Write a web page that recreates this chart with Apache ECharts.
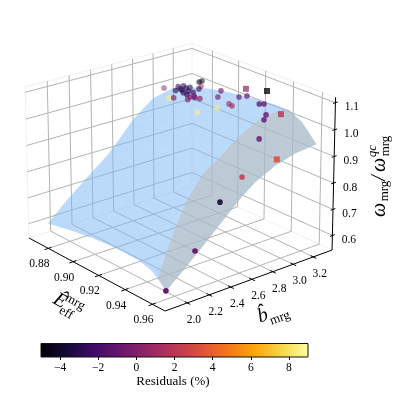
<!DOCTYPE html>
<html>
<head>
<meta charset="utf-8">
<style>html,body{margin:0;padding:0;background:#fff}#main{width:399px;height:395px}</style>
<script src="https://cdn.jsdelivr.net/npm/echarts@6/dist/echarts.min.js"></script>
</head>
<body>
<div id="main"></div>
<script>
// axis ranges and ticks
var eRange = [0.864, 0.969];
var bRange = [1.8, 3.39];
var zRange = [0.544, 1.12];
var eTicks = [0.88, 0.90, 0.92, 0.94, 0.96];
var bTicks = [2.0, 2.2, 2.4, 2.6, 2.8, 3.0, 3.2];
var zTicks = [0.6, 0.7, 0.8, 0.9, 1.0, 1.1];
var cbarTicks = [-4, -2, 0, 2, 4, 6, 8];

// fitted surface (rows follow surfB, columns follow surfE)
var surfE = [0.870, 0.882, 0.894, 0.906, 0.918, 0.930, 0.942, 0.951, 0.961];
var surfB = [1.911, 2.093, 2.277, 2.474, 2.595, 2.727, 2.924, 3.121, 3.326];
var surfZ = [
	[0.600, 0.614, 0.624, 0.633, 0.639, 0.641, 0.639, 0.625, 0.579],
	[0.669, 0.682, 0.692, 0.699, 0.705, 0.706, 0.704, 0.689, 0.642],
	[0.730, 0.744, 0.754, 0.762, 0.768, 0.770, 0.769, 0.754, 0.708],
	[0.794, 0.810, 0.821, 0.830, 0.837, 0.840, 0.840, 0.827, 0.782],
	[0.845, 0.859, 0.869, 0.877, 0.884, 0.886, 0.885, 0.872, 0.826],
	[0.905, 0.917, 0.925, 0.931, 0.934, 0.934, 0.930, 0.914, 0.866],
	[0.965, 0.974, 0.979, 0.982, 0.983, 0.980, 0.974, 0.956, 0.905],
	[0.984, 0.996, 1.003, 1.008, 1.012, 1.012, 1.008, 0.985, 0.927],
	[0.964, 0.983, 0.997, 1.007, 1.015, 1.022, 1.023, 0.996, 0.936]
];

// inner edge of the darker band on the surface
var foldE = [0.9502, 0.9461, 0.9410, 0.9367, 0.9383, 0.9392, 0.9379, 0.9391, 0.9400];
var foldB = [1.970, 2.151, 2.355, 2.551, 2.719, 2.861, 3.040, 3.220, 3.337];
var foldZ = [0.590, 0.705, 0.803, 0.861, 0.918, 0.970, 0.999, 1.022, 1.022];

// simulations
var pointE = [0.8747, 0.8785, 0.8782, 0.8756, 0.8789, 0.8795, 0.8836, 0.8865, 0.8803, 0.8834, 0.8860, 0.8841, 0.8819, 0.8907, 0.8860, 0.8923, 0.8905, 0.8927, 0.8953,
	0.8648, 0.8807, 0.8809, 0.8933, 0.8941, 0.9008, 0.9087, 0.9087, 0.9225, 0.8987, 0.9018, 0.9179, 0.9194, 0.9268, 0.9267, 0.9352, 0.9263, 0.9488, 0.8928, 0.8860, 0.8728, 0.9433, 0.9401, 0.9542, 0.9608];
var pointB = [3.115, 3.040, 3.092, 3.156, 3.139, 3.170, 3.053, 3.050, 3.081, 3.105, 3.119, 3.201, 3.250, 3.068, 2.927, 2.984, 3.030, 3.049, 3.065,
	3.097, 3.275, 3.244, 3.302, 3.261, 3.385, 3.358, 3.347, 3.370, 3.312, 3.301, 3.357, 3.385, 3.304, 3.285, 3.336, 3.244, 3.109, 3.269, 3.158, 3.046, 2.846, 2.678, 2.260, 1.911];
var pointZ = [1.000, 1.000, 1.000, 1.000, 1.000, 1.000, 1.000, 1.000, 1.000, 1.000, 1.000, 1.000, 1.000, 1.000, 1.000, 1.000, 1.000, 1.000, 1.000,
	0.976, 1.016, 1.016, 1.000, 0.982, 0.982, 1.005, 1.034, 1.051, 0.959, 0.959, 0.993, 0.993, 0.976, 0.959, 0.993, 0.890, 0.878, 0.936, 0.918, 0.959, 0.832, 0.751, 0.659, 0.579];
var pointRes = [-2.8, -2.8, -2.8, -2.8, -3.0, -2.8, -2.8, -2.6, -3.0, -2.8, -2.5, -2.5, 1.5, -1.0, 0.5, 0.5, -0.5, -0.5, 0.5,
	0.0, -4.5, -4.8, -1.0, -0.3, -1.0, -1.0, 0.5, -4.8, 1.0, 1.0, -1.5, -1.5, -1.0, -1.0, 2.0, -1.2, 3.4, 8.5, 8.5, 8.5, 2.5, -3.3, -0.8, -0.8];
var pointSquare = [0, 0, 0, 0, 0, 0, 0, 0, 0, 0, 0, 0, 0, 0, 0, 0, 0, 0, 0,
	0, 0, 0, 0, 0, 0, 0, 1, 1, 0, 0, 0, 0, 0, 0, 1, 0, 1, 0, 0, 0, 0, 0, 0, 0];

var inferno = ['#000004', '#160b39', '#420a68', '#6a176e', '#932667', '#bc3754', '#dd513a', '#f37819', '#fca50a', '#f6d746', '#fcffa4'];

// box coordinates (0..1 each way) to pixels, camera fitted to the box corners
function depth(u, v, w) {
	return 1 - 0.0789 * u + 0.0655 * v - 0.024 * w;
}
function projectBox(u, v, w) {
	var d = depth(u, v, w);
	return [(29 + 123 * u + 175.6 * v - 4.6 * w) / d, (238 + 48.5 * u - 39.8 * v - 153.1 * w) / d];
}
function toBox(e, b, z) {
	return [(e - eRange[0]) / (eRange[1] - eRange[0]), (b - bRange[0]) / (bRange[1] - bRange[0]), (z - zRange[0]) / (zRange[1] - zRange[0])];
}
function project(e, b, z) {
	var p = toBox(e, b, z);
	return projectBox(p[0], p[1], p[2]);
}
function boxOf(axis, val) {
	return toBox(axis == 0 ? val : eRange[0], axis == 1 ? val : bRange[0], axis == 2 ? val : zRange[0])[axis];
}

// grid lines on the floor and the two back walls
var gridSegs = [];
eTicks.forEach(function (t) {
	var u = boxOf(0, t);
	gridSegs.push([u, 0, 0, u, 1, 0], [u, 1, 0, u, 1, 1]);
});
bTicks.forEach(function (t) {
	var v = boxOf(1, t);
	gridSegs.push([1, v, 0, 0, v, 0], [0, v, 0, 0, v, 1]);
});
zTicks.forEach(function (t) {
	var w = boxOf(2, t);
	gridSegs.push([0, 0, w, 0, 1, w], [0, 1, w, 1, 1, w]);
});
var paneSegs = [[0, 0, 0, 0, 0, 1], [0, 0, 1, 0, 1, 1], [0, 1, 1, 1, 1, 1], [0, 1, 0, 0, 1, 1], [0, 0, 0, 0, 1, 0], [0, 1, 0, 1, 1, 0]];

// axis lines and ticks
var axisSegs = [[0, 0, 0, 1, 0, 0], [1, 0, 0, 1, 1, 0], [1, 1, 0, 1, 1, 1]];
var tickPos = [];
var tickText = [];
eTicks.forEach(function (t) {
	var u = boxOf(0, t);
	axisSegs.push([u, -0.022, 0, u, 0.018, 0]);
	tickPos.push([u, 0, 0, -9, 16]);
	tickText.push(t.toFixed(2));
});
bTicks.forEach(function (t) {
	var v = boxOf(1, t);
	axisSegs.push([1.02, v, 0, 0.982, v, 0]);
	tickPos.push([1, v, 0, 6.5, 17]);
	tickText.push(t.toFixed(1));
});
zTicks.forEach(function (t) {
	var w = boxOf(2, t);
	axisSegs.push([1, 1.015, w, 1, 0.985, w]);
	tickPos.push([1, 1, w, 16.5, 4.5]);
	tickText.push(t.toFixed(1));
});

function segItem(color, width) {
	return function (params, api) {
		var a = projectBox(api.value(0), api.value(1), api.value(2));
		var b = projectBox(api.value(3), api.value(4), api.value(5));
		return {
			type: 'line',
			shape: { x1: a[0], y1: a[1], x2: b[0], y2: b[1] },
			style: { stroke: color, lineWidth: width, fill: null }
		};
	};
}

// surface cells
var cells = [];
for (var i = 0; i < surfB.length - 1; i++) {
	for (var j = 0; j < surfE.length - 1; j++) {
		cells.push([i, j]);
	}
}
function renderCell(params, api) {
	var i = api.value(0), j = api.value(1);
	var pts = [
		project(surfE[j], surfB[i], surfZ[i][j]),
		project(surfE[j + 1], surfB[i], surfZ[i][j + 1]),
		project(surfE[j + 1], surfB[i + 1], surfZ[i + 1][j + 1]),
		project(surfE[j], surfB[i + 1], surfZ[i + 1][j])
	];
	return { type: 'polygon', shape: { points: pts }, style: { fill: 'rgba(124,183,241,0.52)' } };
}

function renderFold() {
	var pts = foldE.map(function (e, k) {
		return project(e, foldB[k], foldZ[k]);
	});
	var top = surfB.length - 1, last = surfE.length - 1;
	pts.push(project(surfE[last - 1], surfB[top], surfZ[top][last - 1]));
	for (var r = top; r >= 0; r--) {
		pts.push(project(surfE[last], surfB[r], surfZ[r][last]));
	}
	return { type: 'polygon', shape: { points: pts }, style: { fill: 'rgba(190,188,182,0.52)' } };
}

// far points first, nearer ones more opaque
var pointData = pointE.map(function (e, k) {
	return [e, pointB[k], pointZ[k], pointRes[k], pointSquare[k]];
});
function pointDepth(r) {
	var p = toBox(r[0], r[1], r[2]);
	return depth(p[0], p[1], p[2]);
}
pointData.sort(function (a, b) {
	return pointDepth(b) - pointDepth(a);
});
function renderPoint(params, api) {
	var row = [api.value(0), api.value(1), api.value(2)];
	var p = project(row[0], row[1], row[2]);
	var t = Math.min(1, Math.max(0, (pointDepth(row) - 0.93) / 0.11));
	var style = { fill: api.visual('color'), opacity: 1 - 0.55 * t * t };
	if (api.value(4)) {
		return { type: 'rect', shape: { x: p[0] - 3, y: p[1] - 3, width: 6, height: 6 }, style: style };
	}
	return { type: 'circle', shape: { cx: p[0], cy: p[1], r: 2.8 }, style: style };
}

function renderTickLabel(params, api) {
	var p = projectBox(api.value(0), api.value(1), api.value(2));
	return {
		type: 'text',
		x: p[0] + api.value(3),
		y: p[1] + api.value(4),
		style: {
			text: tickText[params.dataIndex],
			fill: '#000',
			font: '11.5px "Liberation Serif"',
			textAlign: 'center',
			textVerticalAlign: 'middle'
		}
	};
}

function renderCbar(params, api) {
	var a = api.coord([api.value(0), 0]);
	var b = api.coord([api.value(1), 1]);
	var stops = inferno.map(function (c, k) {
		return { offset: k / (inferno.length - 1), color: c };
	});
	return {
		type: 'rect',
		shape: { x: a[0], y: b[1], width: b[0] - a[0], height: a[1] - b[1] },
		style: { fill: new echarts.graphic.LinearGradient(0, 0, 1, 0, stops), stroke: '#111', lineWidth: 1 }
	};
}

function label(text, x, y, size, deg, italic) {
	return {
		type: 'text',
		x: x,
		y: y,
		rotation: deg * Math.PI / 180,
		silent: true,
		style: {
			text: text,
			fill: '#000',
			font: (italic ? 'italic ' : '') + size + 'px "Liberation Serif"',
			textAlign: 'center',
			textVerticalAlign: 'middle'
		}
	};
}

function customSeries(data, renderItem, z, extra) {
	var s = { type: 'custom', coordinateSystem: 'none', silent: true, animation: false, data: data, renderItem: renderItem, z: z };
	for (var k in extra) { s[k] = extra[k]; }
	return s;
}

var myChart = echarts.init(document.getElementById('main'), null, { renderer: 'canvas' });

var option = {
	animation: false,
	backgroundColor: '#fff',
	grid: { left: 41, top: 343.5, width: 267, height: 13.5 },
	xAxis: {
		type: 'value',
		min: -5,
		max: 9,
		splitLine: { show: false },
		axisLine: { show: false },
		axisTick: { length: 3, customValues: cbarTicks, lineStyle: { color: '#000' } },
		axisLabel: {
			margin: 5,
			color: '#000',
			fontFamily: 'Liberation Serif',
			fontSize: 11.5,
			customValues: cbarTicks,
			formatter: function (v) {
				return String(v).replace('-', '\u2212');
			}
		}
	},
	yAxis: { type: 'value', min: 0, max: 1, show: false },
	visualMap: {
		show: false,
		type: 'continuous',
		min: -5,
		max: 9,
		dimension: 3,
		seriesIndex: 5,
		inRange: { color: inferno }
	},
	series: [
		customSeries(paneSegs, segItem('#f1f1f1', 1), 1),
		customSeries(gridSegs, segItem('#b4b4b4', 1), 2),
		customSeries(cells, renderCell, 3),
		customSeries([[0]], renderFold, 4),
		customSeries(axisSegs, segItem('#000', 1), 5),
		customSeries(pointData, renderPoint, 6),
		customSeries(tickPos, renderTickLabel, 7),
		customSeries([[-5, 9]], renderCbar, 2, { coordinateSystem: 'cartesian2d', encode: { x: [0, 1] } })
	],
	graphic: [
		label('\u00ca', 60, 301, 20, -30, true),
		label('mrg', 75, 302, 13, -30),
		label('eff', 66, 313, 13, -30),
		label('b\u0302', 263, 316, 20, 18, true),
		label('mrg', 280, 318, 13, 20),
		label('\u03c9', 380, 210, 20, 90, true),
		label('mrg', 385, 191, 13, 90),
		label('/', 380, 178, 20, 90, true),
		label('\u03c9', 380, 165, 20, 90, true),
		label('qc', 373, 151, 13, 90, true),
		label('mrg', 386, 146, 13, 90),
		label('Residuals (%)', 173, 382, 13, 0)
	]
};

myChart.setOption(option);
</script>
</body>
</html>
